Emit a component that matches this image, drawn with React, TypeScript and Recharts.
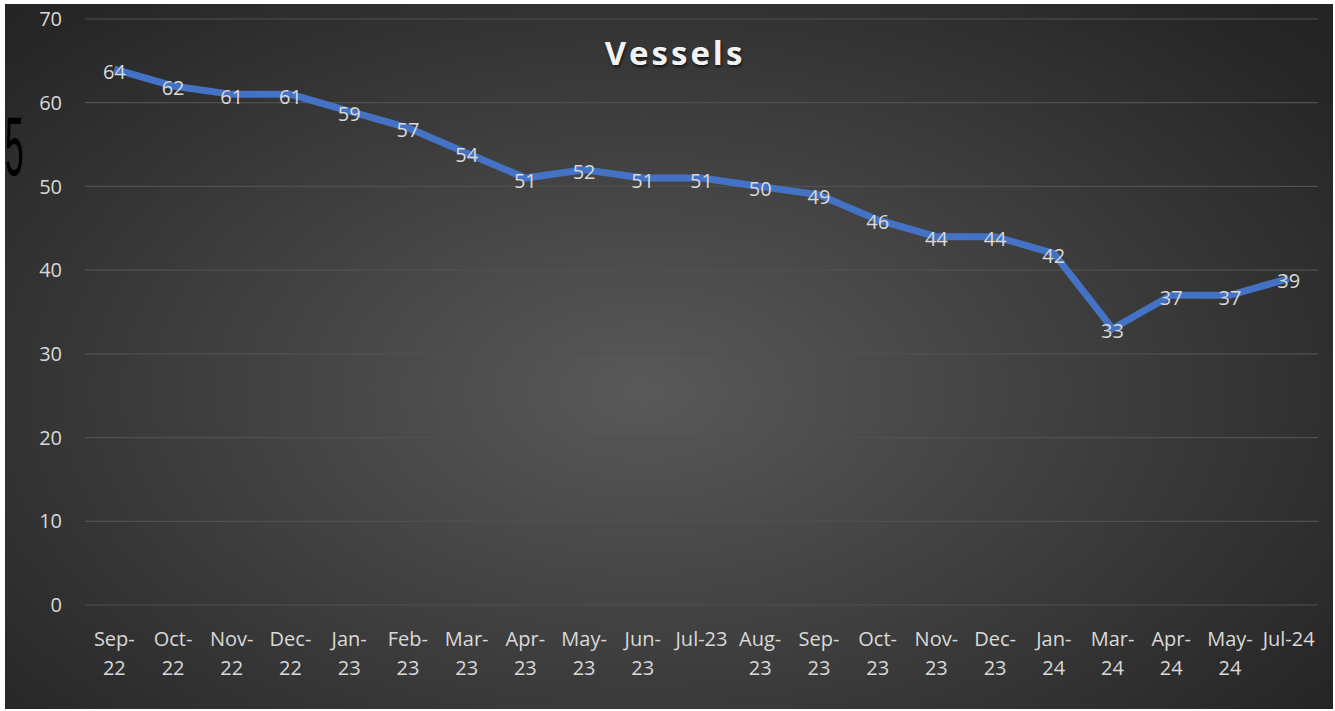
import React from "react";
import { LineChart, Line, XAxis, YAxis, CartesianGrid, LabelList } from "recharts";

const categories = [
  "Sep-22", "Oct-22", "Nov-22", "Dec-22", "Jan-23", "Feb-23", "Mar-23", "Apr-23",
  "May-23", "Jun-23", "Jul-23", "Aug-23", "Sep-23", "Oct-23", "Nov-23", "Dec-23",
  "Jan-24", "Mar-24", "Apr-24", "May-24", "Jul-24",
];
const vessels = [64, 62, 61, 61, 59, 57, 54, 51, 52, 51, 51, 50, 49, 46, 44, 44, 42, 33, 37, 37, 39];
const yTicks = [0, 10, 20, 30, 40, 50, 60, 70];
const singleLineLabels = ["Jul-23", "Jul-24"];
const title = "Vessels";

const data = categories.map((c, i) => ({ month: c, value: vessels[i] }));

const FONT = "'Open Sans', sans-serif";
const TEXT = "#d9d9d9";
const FS = 20;

const XTick = (props: any) => {
  const { x, y, payload } = props;
  const label: string = payload.value;
  const lines = singleLineLabels.includes(label)
    ? [label]
    : [label.slice(0, label.indexOf("-") + 1), label.slice(label.indexOf("-") + 1)];
  return (
    <g>
      {lines.map((l, i) => (
        <text key={i} x={x} y={y + 39 + i * 29} textAnchor="middle" fill={TEXT} fontSize={FS} fontFamily={FONT}>
          {l}
        </text>
      ))}
    </g>
  );
};

const ValueLabel = (props: any) => {
  const { x, y, value } = props;
  return (
    <text x={x} y={y + 2} textAnchor="middle" dominantBaseline="central" fill={TEXT} fontSize={FS} fontFamily={FONT}>
      {value}
    </text>
  );
};

export default function App() {
  return (
    <div style={{ position: "fixed", left: 0, top: 0, width: 1335, height: 711, background: "#ffffff", overflow: "hidden" }}>
      <div
        style={{
          position: "absolute",
          left: 5,
          top: 4,
          width: 1328,
          height: 705,
          background: "radial-gradient(ellipse 75% 85% at 48% 55%, #595959 0%, #3e3e3e 45%, #262626 85%, #222222 100%)",
        }}
      >
        <LineChart width={1328} height={705} data={data} margin={{ top: 15, right: 15, left: 20, bottom: 44 }}>
          <CartesianGrid vertical={false} stroke="#505050" strokeWidth={1.2} />
          <XAxis
            dataKey="month"
            scale="band"
            axisLine={false}
            tickLine={false}
            tickSize={0}
            height={60}
            interval={0}
            tick={<XTick />}
          />
          <YAxis
            domain={[0, 70]}
            ticks={yTicks}
            axisLine={false}
            tickLine={false}
            tickSize={0}
            tickMargin={23}
            width={60}
            tick={{ fill: TEXT, fontSize: FS, fontFamily: FONT }}
          />
          <Line
            type="linear"
            dataKey="value"
            stroke="#4472c4"
            strokeWidth={7}
            dot={false}
            activeDot={false}
            isAnimationActive={false}
          >
            <LabelList dataKey="value" content={<ValueLabel />} />
          </Line>
        </LineChart>
        <div
          style={{
            position: "absolute",
            left: 0,
            width: 1340,
            top: 26,
            textAlign: "center",
            fontFamily: FONT,
            fontWeight: 700,
            fontSize: 33,
            letterSpacing: 3,
            color: "#f2f2f2",
            textShadow: "1px 2px 3px rgba(0,0,0,0.6)",
            lineHeight: "45px",
          }}
        >
          {title}
        </div>
        <div
          style={{
            position: "absolute",
            left: 0,
            top: 92,
            fontFamily: "'Liberation Sans', sans-serif",
            fontSize: 84,
            color: "#000000",
            transform: "scaleX(0.4)",
            transformOrigin: "0 0",
            lineHeight: "100px",
          }}
        >
          5
        </div>
      </div>
    </div>
  );
}
